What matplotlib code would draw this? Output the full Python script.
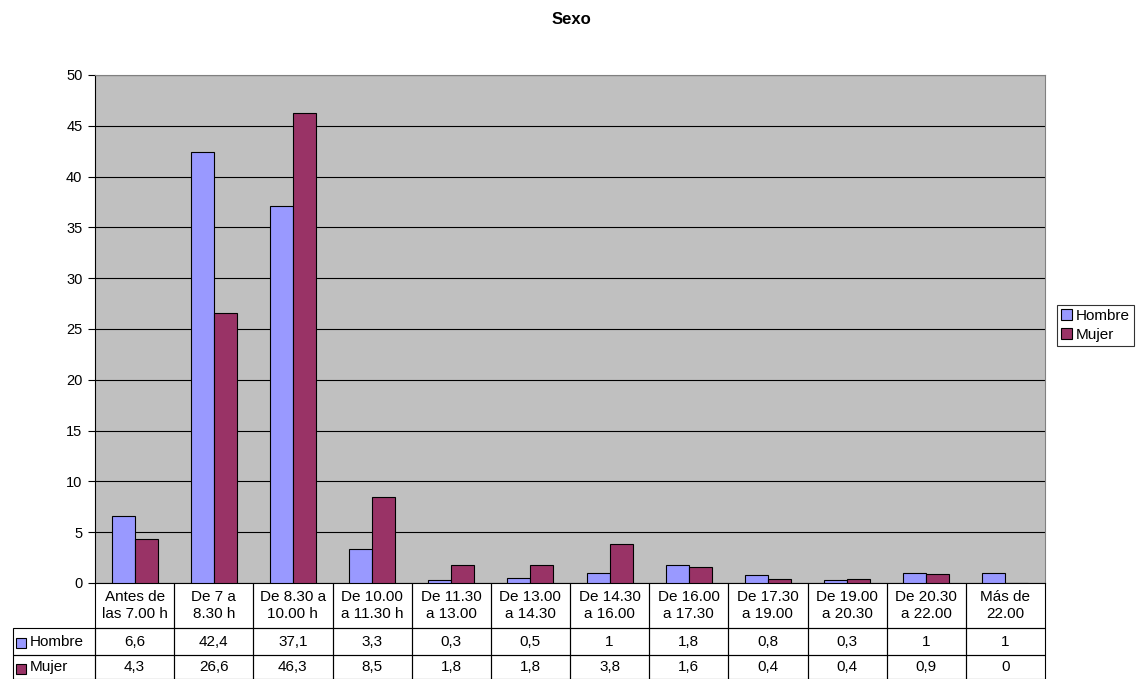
import numpy as np
import matplotlib.pyplot as plt
from matplotlib.patches import Rectangle

plt.rcParams['font.family'] = ['Liberation Sans', 'DejaVu Sans']

categories = ["Antes de\nlas 7.00 h", "De 7 a\n8.30 h", "De 8.30 a\n10.00 h", "De 10.00\na 11.30 h",
              "De 11.30\na 13.00", "De 13.00\na 14.30", "De 14.30\na 16.00", "De 16.00\na 17.30",
              "De 17.30\na 19.00", "De 19.00\na 20.30", "De 20.30\na 22.00", "Más de\n22.00"]
hombre = [6.6, 42.4, 37.1, 3.3, 0.3, 0.5, 1, 1.8, 0.8, 0.3, 1, 1]
mujer = [4.3, 26.6, 46.3, 8.5, 1.8, 1.8, 3.8, 1.6, 0.4, 0.4, 0.9, 0]
series_names = ["Hombre", "Mujer"]
title = "Sexo"

c_h = '#9999FF'
c_m = '#993366'

W, H = 1136, 679
fig = plt.figure(figsize=(W / 100, H / 100), dpi=100)
ax = fig.add_axes([95 / W, 1 - 583 / H, 950 / W, 508 / H])
ax.set_facecolor('#C0C0C0')

x = np.arange(len(categories))
bw = 0.29
ax.bar(x - bw / 2, hombre, bw, color=c_h, edgecolor='black', linewidth=0.8, zorder=3, label=series_names[0])
ax.bar(x + bw / 2, mujer, bw, color=c_m, edgecolor='black', linewidth=0.8, zorder=3, label=series_names[1])

ax.set_xlim(-0.5, len(categories) - 0.5)
ax.set_ylim(0, 50)
ax.set_yticks(range(0, 51, 5))
ax.yaxis.grid(True, color='black', linewidth=0.8, zorder=1)
ax.set_axisbelow(True)
ax.set_xticks([])
ax.tick_params(axis='y', direction='out', length=5, labelsize=10.5, pad=4)
for s in ['top', 'right']:
    ax.spines[s].set_color('#808080')
ax.spines['left'].set_color('black')
ax.spines['bottom'].set_color('black')

fig.text(571 / W, 1 - 19 / H, title, fontsize=12, fontweight='bold', ha='center', va='center')

# data table under the axis, first column holds the series names
fmt = lambda v: ("%g" % v).replace('.', ',')
rows = [[""] + categories,
        [series_names[0]] + [fmt(v) for v in hombre],
        [series_names[1]] + [fmt(v) for v in mujer]]
label_w = 82 / 950
col_w = [label_w] + [1 / 12] * 12
tbl = ax.table(cellText=rows, colWidths=col_w, cellLoc='center',
               bbox=[-label_w, -96 / 508, 1 + label_w, 96 / 508])
tbl.auto_set_font_size(False)
tbl.set_fontsize(11)
heights = [45, 27, 24]
for (r, c), cell in tbl.get_celld().items():
    cell.set_linewidth(0.8)
    cell.set_facecolor('none')
    cell.set_height(heights[r])
    if r == 0:
        cell.visible_edges = 'LRB' if c > 0 else ''
    if c == 0 and r > 0:
        cell._loc = 'left'
        cell.PAD = 0.2
        cell.get_text().set_horizontalalignment('left')

# little colour keys in the row labels
for yc, col in [(643, c_h), (669, c_m)]:
    fig.add_artist(Rectangle((16 / W, 1 - (yc + 5) / H), 10 / W, 10 / H, transform=fig.transFigure,
                             facecolor=col, edgecolor='black', linewidth=0.8))

leg = fig.legend(loc='upper left', bbox_to_anchor=(1057 / W, 1 - 305 / H), frameon=True, fancybox=False,
                 edgecolor='black', fontsize=11, handlelength=0.75, handleheight=0.75, handletextpad=0.25,
                 borderpad=0.25, labelspacing=0.35, borderaxespad=0)
leg.get_frame().set_linewidth(0.8)

fig.savefig('out.png', dpi=100)
